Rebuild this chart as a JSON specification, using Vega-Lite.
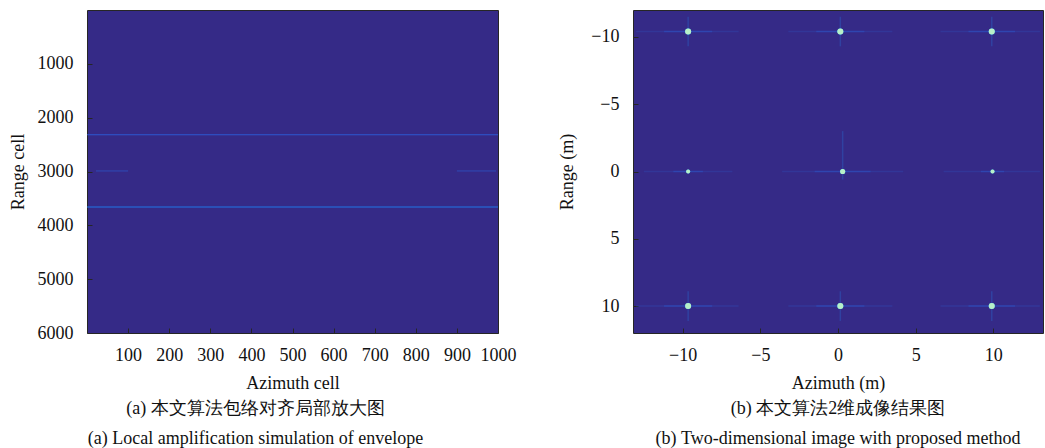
{
  "$schema": "https://vega.github.io/schema/vega-lite/v6.json",
  "padding": {"left": 8, "top": 9, "right": 0, "bottom": 0},
  "spacing": 41,
  "datasets": {
    "leftLines": [
      {"a1": 0, "a2": 1000, "cell": 2318, "level": "mid"},
      {"a1": 0, "a2": 1000, "cell": 3660, "level": "high"},
      {"a1": 22, "a2": 100, "cell": 2990, "level": "low"},
      {"a1": 900, "a2": 995, "cell": 2990, "level": "low"}
    ],
    "hstreaks": [
      {"a1": -13, "a2": -6.4, "rg": -10.4, "level": "far"},
      {"a1": -11.2, "a2": -8.1, "rg": -10.4, "level": "near"},
      {"a1": -3.2, "a2": 3.5, "rg": -10.4, "level": "far"},
      {"a1": -1.4, "a2": 1.7, "rg": -10.4, "level": "near"},
      {"a1": 6.6, "a2": 13, "rg": -10.4, "level": "far"},
      {"a1": 8.4, "a2": 11.4, "rg": -10.4, "level": "near"},
      {"a1": -12.5, "a2": -6.8, "rg": 0, "level": "far"},
      {"a1": -10.6, "a2": -8.7, "rg": 0, "level": "near"},
      {"a1": -3.6, "a2": 4.2, "rg": 0, "level": "far"},
      {"a1": -1.5, "a2": 2.1, "rg": 0, "level": "near"},
      {"a1": 6.8, "a2": 13, "rg": 0, "level": "far"},
      {"a1": 9.2, "a2": 10.7, "rg": 0, "level": "near"},
      {"a1": -13, "a2": -6.4, "rg": 10, "level": "far"},
      {"a1": -11.2, "a2": -8.1, "rg": 10, "level": "near"},
      {"a1": -3.2, "a2": 3.5, "rg": 10, "level": "far"},
      {"a1": -1.4, "a2": 1.7, "rg": 10, "level": "near"},
      {"a1": 6.6, "a2": 13, "rg": 10, "level": "far"},
      {"a1": 8.4, "a2": 11.4, "rg": 10, "level": "near"}
    ],
    "vstreaks": [
      {"az": -9.65, "r1": -11.5, "r2": -9.3},
      {"az": 0.15, "r1": -11.5, "r2": -9.3},
      {"az": 9.9, "r1": -11.5, "r2": -9.3},
      {"az": 0.3, "r1": -3.0, "r2": 0.6},
      {"az": -9.65, "r1": 8.9, "r2": 11.1},
      {"az": 0.15, "r1": 8.9, "r2": 11.1},
      {"az": 9.9, "r1": 8.9, "r2": 11.1}
    ],
    "spots": [
      {"az": -9.65, "rg": -10.4, "level": "strong"},
      {"az": 0.15, "rg": -10.4, "level": "strong"},
      {"az": 9.9, "rg": -10.4, "level": "strong"},
      {"az": -9.65, "rg": 0, "level": "weak"},
      {"az": 0.3, "rg": 0, "level": "mid"},
      {"az": 9.95, "rg": 0, "level": "weak"},
      {"az": -9.65, "rg": 10, "level": "strong"},
      {"az": 0.15, "rg": 10, "level": "strong"},
      {"az": 9.9, "rg": 10, "level": "strong"}
    ]
  },
  "hconcat": [
    {
      "width": 411,
      "height": 323,
      "title": {
        "text": ["(a) 本文算法包络对齐局部放大图", "(a) Local amplification simulation of envelope"],
        "orient": "bottom", "anchor": "middle", "frame": "group", "dx": -37, "offset": 8,
        "font": "Liberation Serif", "fontSize": 18, "fontWeight": "normal", "lineHeight": 30, "color": "#111"
      },
      "data": {"name": "leftLines"},
      "mark": {"type": "rule"},
      "encoding": {
        "x": {"field": "a1", "type": "quantitative", "scale": {"domain": [0, 1000], "nice": false, "zero": false},
              "axis": {"values": [100, 200, 300, 400, 500, 600, 700, 800, 900, 1000], "title": "Azimuth cell", "format": "d", "labelFont": "Liberation Serif", "titleFont": "Liberation Serif"}},
        "x2": {"field": "a2"},
        "y": {"field": "cell", "type": "quantitative", "scale": {"domain": [0, 6000], "reverse": true, "nice": false, "zero": false},
              "axis": {"values": [1000, 2000, 3000, 4000, 5000, 6000], "title": "Range cell", "format": "d", "labelFont": "Liberation Serif", "titleFont": "Liberation Serif"}},
        "color": {"field": "level", "type": "nominal", "scale": {"domain": ["low", "mid", "high"], "range": ["#2f4cb8", "#2c58d0", "#2175e6"]}, "legend": null},
        "strokeWidth": {"field": "level", "type": "nominal", "scale": {"domain": ["low", "mid", "high"], "range": [1, 1.1, 1.6]}, "legend": null}
      }
    },
    {
      "width": 410,
      "height": 323,
      "title": {
        "text": ["(b) 本文算法2维成像结果图", "(b) Two-dimensional image with proposed method"],
        "orient": "bottom", "anchor": "middle", "frame": "group", "offset": 8,
        "font": "Liberation Serif", "fontSize": 18, "fontWeight": "normal", "lineHeight": 30, "color": "#111"
      },
      "layer": [
        {
          "data": {"name": "hstreaks"},
          "mark": {"type": "rule", "strokeWidth": 1.5},
          "encoding": {
            "x": {"field": "a1", "type": "quantitative", "scale": {"domain": [-13.2, 13.2], "nice": false, "zero": false},
                  "axis": {"values": [-10, -5, 0, 5, 10], "title": "Azimuth (m)", "labelFont": "Liberation Serif", "titleFont": "Liberation Serif"}},
            "x2": {"field": "a2"},
            "y": {"field": "rg", "type": "quantitative", "scale": {"domain": [-12, 12], "reverse": true, "nice": false, "zero": false},
                  "axis": {"values": [-10, -5, 0, 5, 10], "title": "Range (m)", "titlePadding": 14, "labelFont": "Liberation Serif", "titleFont": "Liberation Serif"}},
            "color": {"field": "level", "type": "nominal", "scale": {"domain": ["far", "near"], "range": ["#2a63c8", "#2f8ae6"]}, "legend": null},
            "opacity": {"field": "level", "type": "nominal", "scale": {"domain": ["far", "near"], "range": [0.35, 0.7]}, "legend": null}
          }
        },
        {
          "data": {"name": "vstreaks"},
          "mark": {"type": "rule", "strokeWidth": 1.5, "color": "#2a63c8", "opacity": 0.4},
          "encoding": {
            "x": {"field": "az", "type": "quantitative"},
            "y": {"field": "r1", "type": "quantitative"},
            "y2": {"field": "r2"}
          }
        },
        {
          "data": {"name": "spots"},
          "mark": {"type": "circle", "color": "#2a86e4"},
          "encoding": {
            "x": {"field": "az", "type": "quantitative"},
            "y": {"field": "rg", "type": "quantitative"},
            "size": {"field": "level", "type": "nominal", "scale": {"domain": ["weak", "mid", "strong"], "range": [16, 36, 70]}, "legend": null},
            "opacity": {"field": "level", "type": "nominal", "scale": {"domain": ["weak", "mid", "strong"], "range": [0.4, 0.6, 0.55]}, "legend": null}
          }
        },
        {
          "data": {"name": "spots"},
          "mark": {"type": "circle", "color": "#3ab8d8", "opacity": 0.9},
          "encoding": {
            "x": {"field": "az", "type": "quantitative"},
            "y": {"field": "rg", "type": "quantitative"},
            "size": {"field": "level", "type": "nominal", "scale": {"domain": ["weak", "mid", "strong"], "range": [0, 6, 16]}, "legend": null}
          }
        },
        {
          "data": {"name": "spots"},
          "mark": {"type": "circle", "color": "#b8f0c8", "opacity": 1},
          "encoding": {
            "x": {"field": "az", "type": "quantitative"},
            "y": {"field": "rg", "type": "quantitative"},
            "size": {"field": "level", "type": "nominal", "scale": {"domain": ["weak", "mid", "strong"], "range": [0, 0, 2]}, "legend": null}
          }
        }
      ]
    }
  ],
  "config": {
    "font": "Liberation Serif",
    "view": {"fill": "#352a87", "stroke": "#262626", "strokeWidth": 1},
    "axis": {
      "grid": false, "domain": false, "labelOverlap": false, "labelFlush": false,
      "tickColor": "#262626", "tickSize": -5, "tickWidth": 1,
      "labelFont": "Liberation Serif", "labelFontSize": 18, "labelColor": "#111", "labelPadding": 18,
      "titleFont": "Liberation Serif", "titleFontSize": 18, "titleFontWeight": "normal", "titleColor": "#111", "titlePadding": 10
    },
    "axisY": {"labelPadding": 19}
  }
}
